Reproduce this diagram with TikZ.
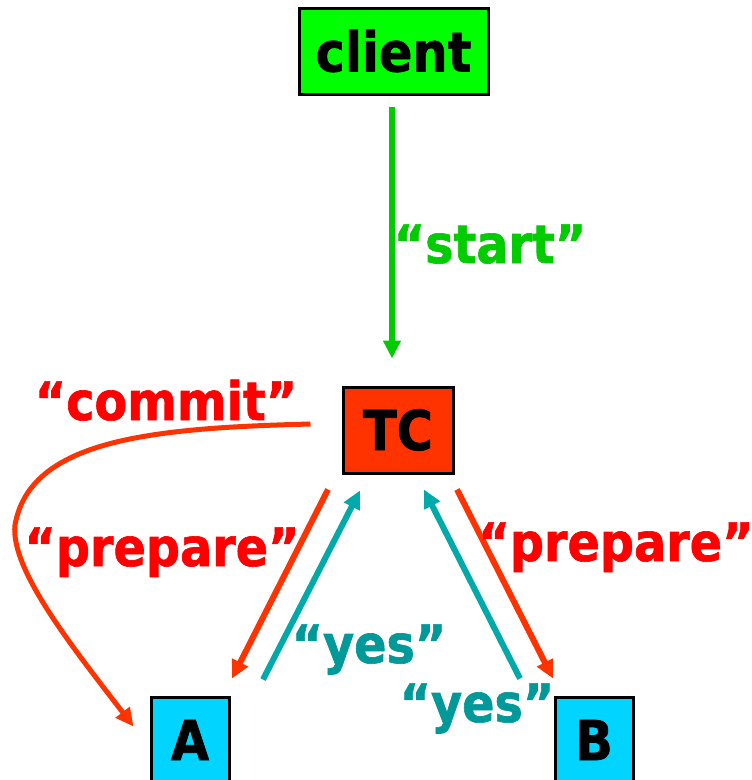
\documentclass[tikz,border=0pt]{standalone}
\usepackage{fontspec}
\setmainfont{DejaVu Sans}[FakeStretch=0.9,FakeBold=1.2]
\usetikzlibrary{arrows.meta}
\definecolor{boxgreen}{HTML}{00FF00}
\definecolor{startgreen}{HTML}{00CC00}
\definecolor{tcred}{HTML}{FF3300}
\definecolor{txtred}{HTML}{FF0000}
\definecolor{arrteal}{HTML}{00AAAA}
\definecolor{txtteal}{HTML}{009999}
\definecolor{boxcyan}{HTML}{00D4FF}
\tikzset{
  box/.style={draw=black, line width=3pt, inner sep=0pt, font=\fontsize{55}{60}\selectfont\bfseries},
  lbl/.style={font=\fontsize{53}{58}\selectfont\bfseries, inner sep=0pt, anchor=base},
  conn/.style={line width=6pt, -{Triangle[length=18pt,width=17pt]}},
}
\begin{document}
\begin{tikzpicture}[x=1pt,y=-1pt]
\useasboundingbox[fill=white] (0,0) rectangle (752,780);
\node[box, fill=boxgreen, minimum width=189pt, minimum height=86pt] (client) at (393.5,51) {client};
\node[box, fill=tcred, minimum width=110pt, minimum height=86pt] (TC) at (398,430) {TC};
\node[box, fill=boxcyan, minimum width=78pt, minimum height=86pt] (A) at (190,740) {A};
\node[box, fill=boxcyan, minimum width=78pt, minimum height=86pt] (B) at (594,740) {B};

\draw[conn, startgreen, shorten <=11pt, shorten >=27pt] (client.south -| 392,0) -- (TC.north -| 392,0);

\coordinate (lps) at ([xshift=-70pt,yshift=-15pt]TC.south);
\coordinate (lpe) at ([xshift=42pt,yshift=17pt]A.north);
\coordinate (lys) at ([xshift=73pt,yshift=16pt]A.north);
\coordinate (lye) at ([xshift=-38pt,yshift=-16pt]TC.south);
\coordinate (rys) at ([xshift=-74pt,yshift=17pt]B.north);
\coordinate (rye) at ([xshift=26pt,yshift=-15pt]TC.south);
\coordinate (rps) at ([xshift=59pt,yshift=-15pt]TC.south);
\coordinate (rpe) at ([xshift=-41pt,yshift=17pt]B.north);
\coordinate (cms) at ([xshift=-31pt,yshift=6pt]TC.west);
\coordinate (cmm) at (15,525);
\coordinate (cme) at ([xshift=-16pt,yshift=-31pt]A.north west);

\draw[conn, tcred] (lps) -- (lpe);
\draw[conn, arrteal] (lys) -- (lye);
\draw[conn, arrteal] (rys) -- (rye);
\draw[conn, tcred] (rps) -- (rpe);
\draw[conn, tcred, line width=5pt] (cms) .. controls (150,428) and (30,440) .. (cmm) .. controls (10,570) and (75,650) .. (cme);

\node[lbl, text=startgreen] (lstart) at (490,263) {“start”};
\node[lbl, text=txtred] (lcommit) at (166,420) {“commit”};
\node[lbl, text=txtred] (lprepl) at (162,566) {“prepare”};
\node[lbl, text=txtred] (lprepr) at (616,561) {“prepare”};
\node[lbl, text=txtteal] (lyest) at (369,663) {“yes”};
\node[lbl, text=txtteal] (lyesb) at (477,722) {“yes”};
\end{tikzpicture}
\end{document}
